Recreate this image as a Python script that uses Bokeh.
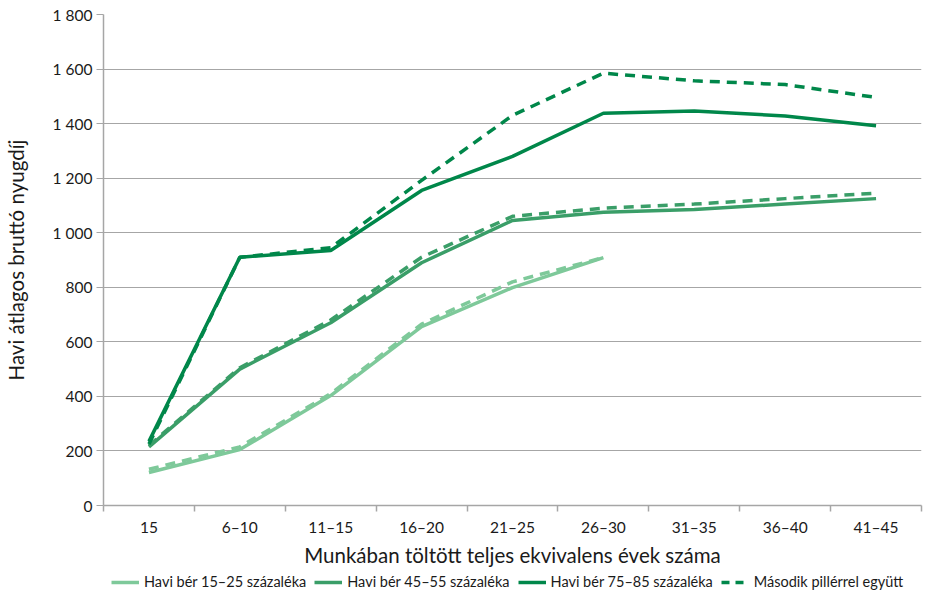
from bokeh.plotting import figure
from bokeh.layouts import column
from bokeh.models import Range1d, FixedTicker, Legend, LegendItem
from bokeh.embed import file_html
from bokeh.resources import INLINE

categories = ["15", "6–10", "11–15", "16–20", "21–25", "26–30", "31–35", "36–40", "41–45"]

low_base = [121, 205, 403, 656, 799, 909]
low_pillar = [133, 215, 410, 665, 820, 909]
mid_base = [215, 500, 670, 890, 1045, 1075, 1085, 1105, 1125]
mid_pillar = [220, 505, 680, 910, 1060, 1090, 1105, 1125, 1145]
high_base = [235, 910, 935, 1155, 1280, 1438, 1446, 1428, 1392]
high_pillar = [225, 910, 945, 1192, 1430, 1585, 1557, 1543, 1496]

y_ticks = [0, 200, 400, 600, 800, 1000, 1200, 1400, 1600, 1800]
y_tick_labels = ["0", "200", "400", "600", "800", "1 000", "1 200", "1 400", "1 600", "1 800"]

legend_labels = ["Havi bér 15–25 százaléka", "Havi bér 45–55 százaléka",
                 "Havi bér 75–85 százaléka", "Második pillérrel együtt"]

C_LIGHT = "#7ec99a"
C_MID = "#3a9e68"
C_DARK = "#00874a"
GRID = "#a6a6a6"
TXT = "#1a1a1a"
FONT = "Lato"
LW = 3.5
DASH = "10 7"

n = len(categories)
centers = [i + 0.5 for i in range(n)]      # category slot centres on the axis
bounds = list(range(n + 1))                # category slot boundaries

p = figure(width=927, height=569, output_backend="svg", toolbar_location=None,
           x_range=Range1d(0, n), y_range=Range1d(0, 1800),
           min_border_left=103, min_border_top=14, min_border_right=6, min_border_bottom=60)
p.outline_line_color = None
p.background_fill_color = "white"
p.border_fill_color = "white"

# y axis
p.yaxis.ticker = FixedTicker(ticks=y_ticks)
p.yaxis.major_label_overrides = {t: l for t, l in zip(y_ticks, y_tick_labels)}
p.yaxis.axis_line_color = GRID
p.yaxis.axis_line_width = 1.5
p.yaxis.major_tick_line_color = GRID
p.yaxis.major_tick_out = 7
p.yaxis.major_tick_in = 0
p.yaxis.minor_tick_line_color = None
p.yaxis.major_label_text_font = FONT
p.yaxis.major_label_text_font_size = "15.5px"
p.yaxis.major_label_text_color = TXT
p.yaxis.major_label_standoff = 4
p.yaxis.axis_label = "Havi átlagos bruttó nyugdíj"
p.yaxis.axis_label_text_font = FONT
p.yaxis.axis_label_text_font_size = "20.5px"
p.yaxis.axis_label_text_font_style = "normal"
p.yaxis.axis_label_text_color = TXT
p.yaxis.axis_label_standoff = 22

p.ygrid.ticker = FixedTicker(ticks=y_ticks)
p.ygrid.grid_line_color = GRID
p.ygrid.grid_line_width = 1.2
p.xgrid.grid_line_color = None

# x axis: labels at slot centres, tick marks at slot boundaries
p.xaxis.ticker = FixedTicker(ticks=centers, minor_ticks=bounds)
p.xaxis.major_label_overrides = {c: l for c, l in zip(centers, categories)}
p.xaxis.major_tick_line_color = None
p.xaxis.major_tick_out = 0
p.xaxis.major_tick_in = 0
p.xaxis.minor_tick_line_color = GRID
p.xaxis.minor_tick_line_width = 1.5
p.xaxis.minor_tick_out = 6
p.xaxis.minor_tick_in = 0
p.xaxis.axis_line_color = GRID
p.xaxis.axis_line_width = 1.5
p.xaxis.major_label_text_font = FONT
p.xaxis.major_label_text_font_size = "15.5px"
p.xaxis.major_label_text_color = TXT
p.xaxis.major_label_standoff = 6
p.xaxis.axis_label = "Munkában töltött teljes ekvivalens évek száma"
p.xaxis.axis_label_text_font = FONT
p.xaxis.axis_label_text_font_size = "20.5px"
p.xaxis.axis_label_text_font_style = "normal"
p.xaxis.axis_label_text_color = TXT
p.xaxis.axis_label_standoff = 4

p.line(centers[:len(low_base)], low_base, color=C_LIGHT, line_width=LW)
p.line(centers[:len(low_pillar)], low_pillar, color=C_LIGHT, line_width=LW, line_dash=DASH)
p.line(centers, mid_base, color=C_MID, line_width=LW)
p.line(centers, mid_pillar, color=C_MID, line_width=LW, line_dash=DASH)
p.line(centers, high_base, color=C_DARK, line_width=LW)
p.line(centers, high_pillar, color=C_DARK, line_width=LW, line_dash=DASH)

# legend strip below the chart: same series, drawn outside the strip's visible range
lg = figure(width=927, height=25, output_backend="svg", toolbar_location=None,
            x_axis_location=None, y_axis_location=None,
            min_border_left=103, min_border_right=6, min_border_top=0, min_border_bottom=0,
            x_range=Range1d(0, n), y_range=Range1d(-2, -1))
lg.outline_line_color = None
lg.grid.visible = False
g1 = lg.line(centers[:len(low_base)], low_base, color=C_LIGHT, line_width=LW)
g2 = lg.line(centers, mid_base, color=C_MID, line_width=LW)
g3 = lg.line(centers, high_base, color=C_DARK, line_width=LW)
g4 = lg.line(centers, high_pillar, color=C_DARK, line_width=LW, line_dash="8 6")

legend = Legend(items=[LegendItem(label=legend_labels[0], renderers=[g1]),
                       LegendItem(label=legend_labels[1], renderers=[g2]),
                       LegendItem(label=legend_labels[2], renderers=[g3]),
                       LegendItem(label=legend_labels[3], renderers=[g4])],
                orientation="horizontal", location=(8, 4),
                label_text_font=FONT, label_text_font_size="14.5px", label_text_color=TXT,
                glyph_width=28, glyph_height=14, label_standoff=5, spacing=8,
                padding=0, margin=0, border_line_color=None, background_fill_alpha=0)
lg.add_layout(legend, "center")

open("out.html", "w").write(file_html(column(p, lg), INLINE))
